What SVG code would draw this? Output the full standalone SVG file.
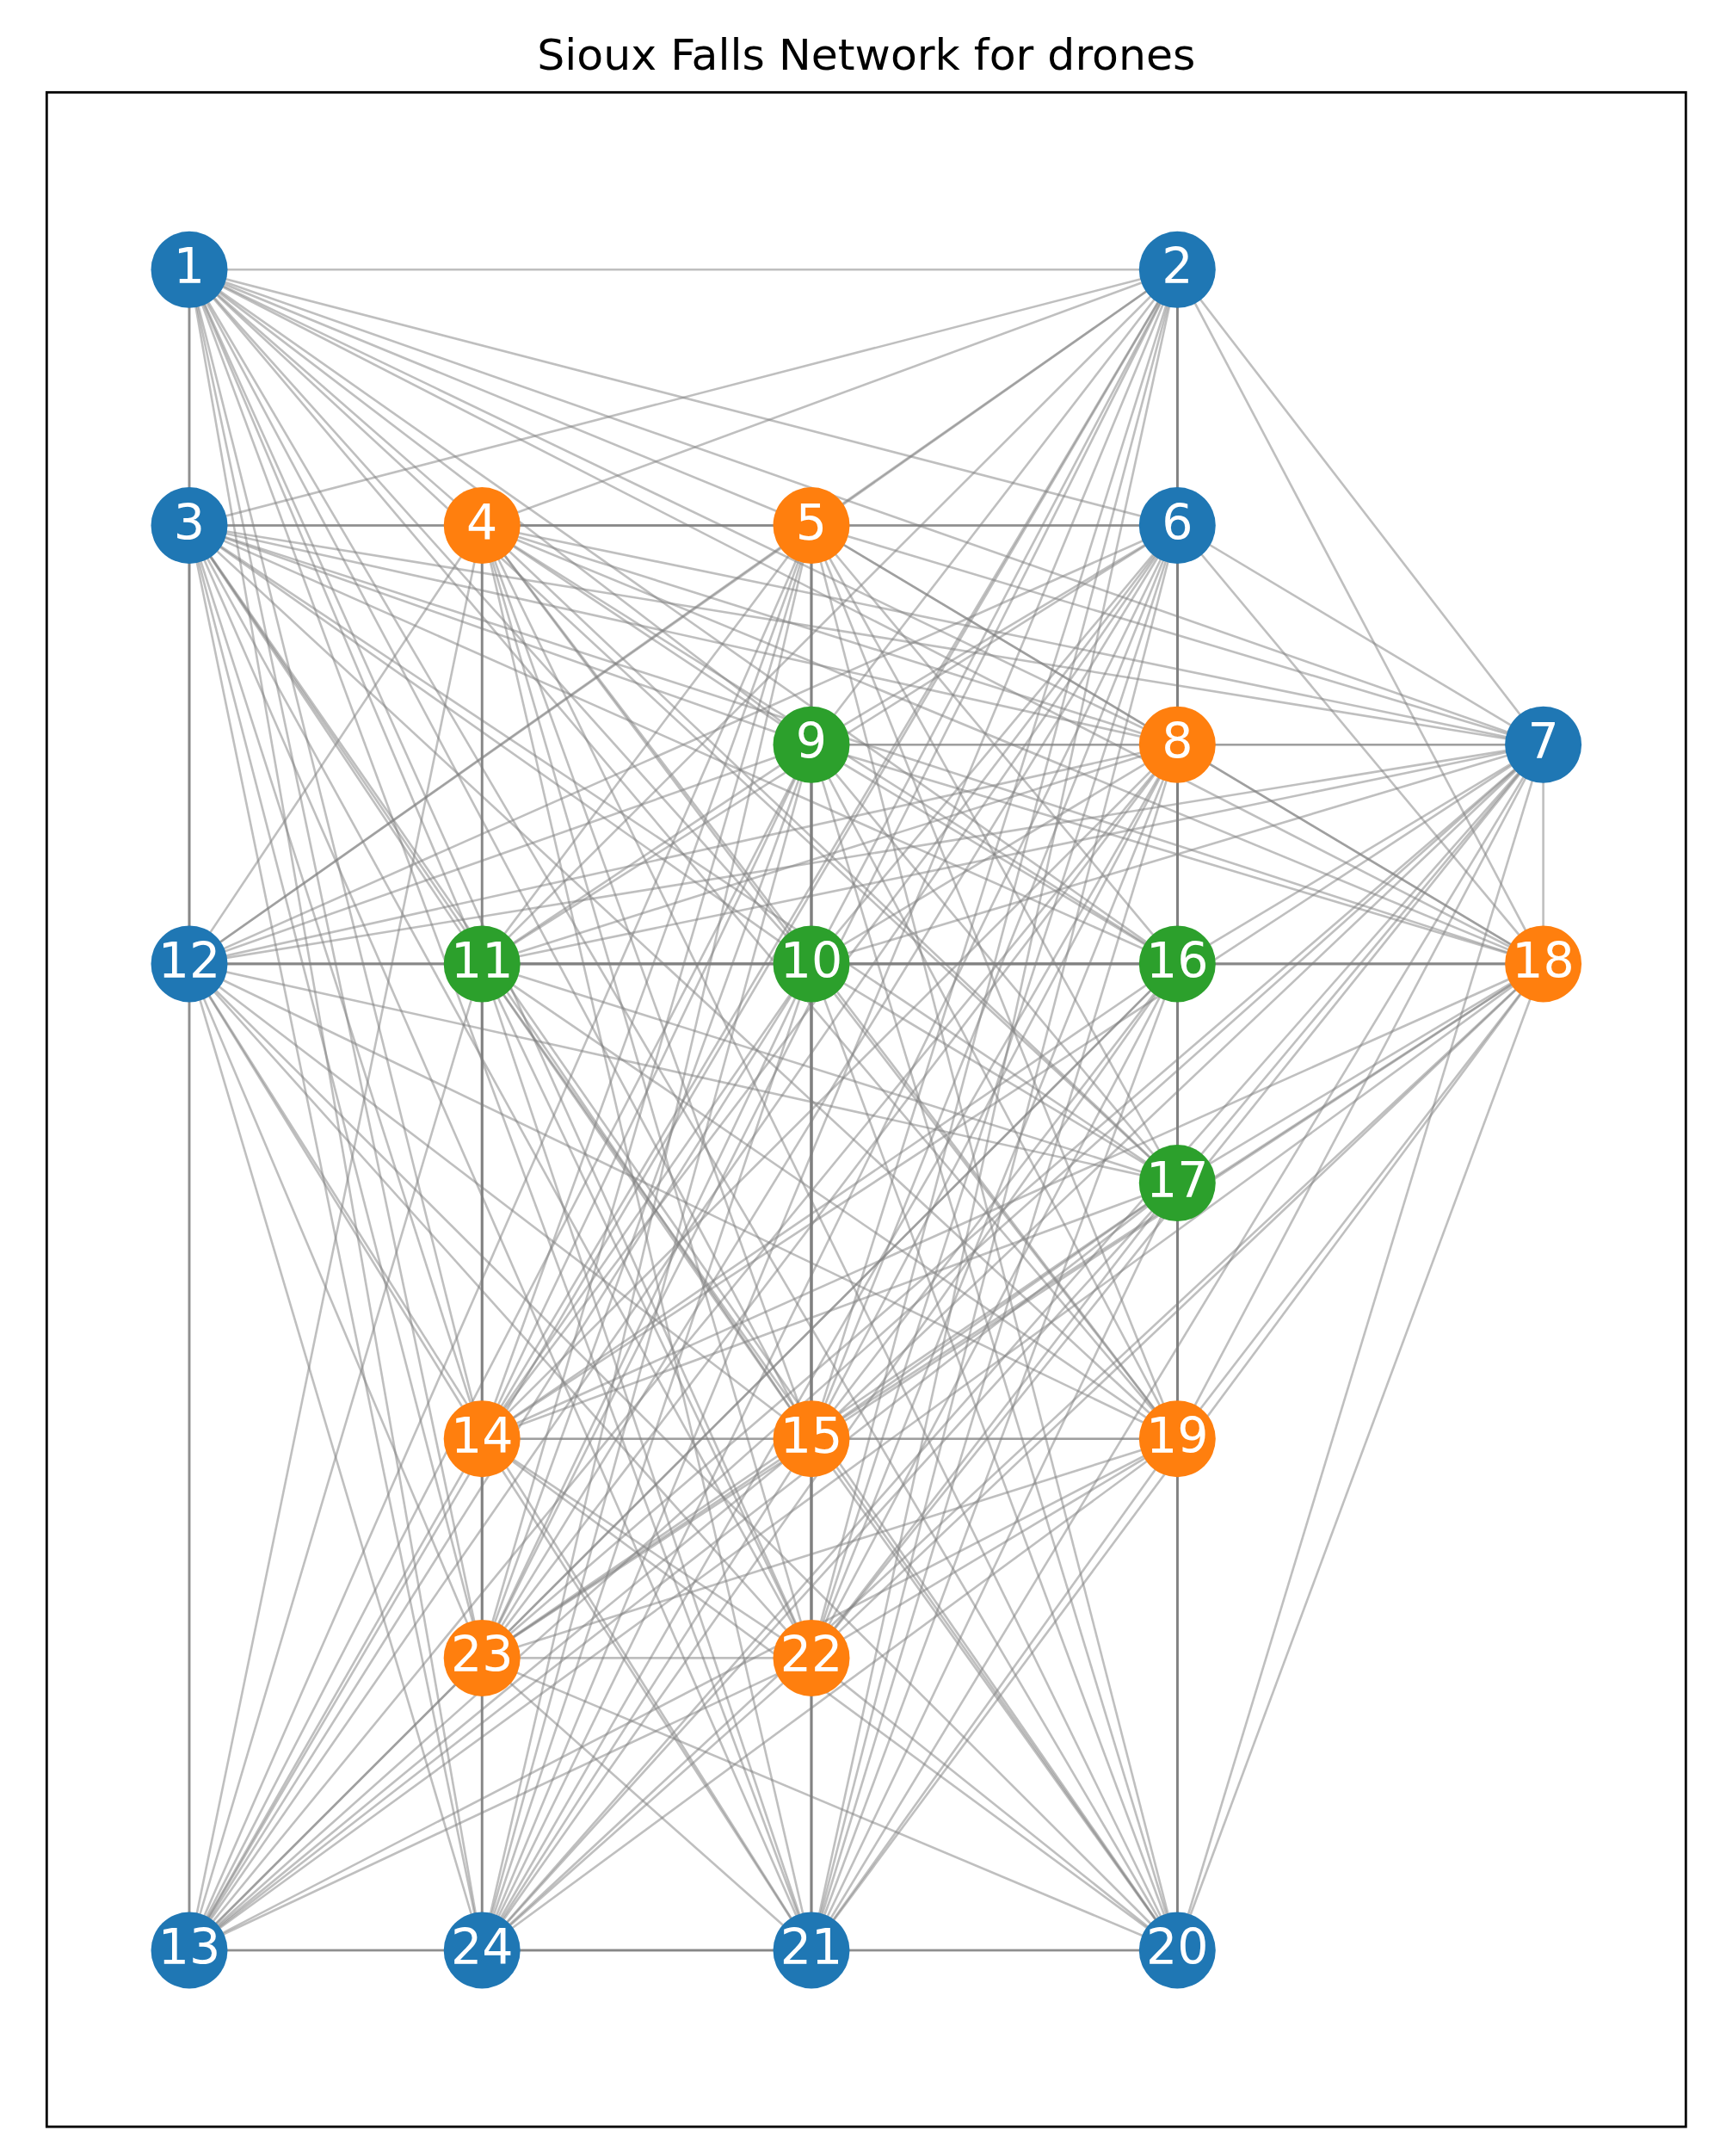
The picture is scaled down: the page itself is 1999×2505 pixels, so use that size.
<svg xmlns="http://www.w3.org/2000/svg" width="1999" height="2505" viewBox="0 0 1999 2505">
<style>
#edges path{stroke:#808080;stroke-opacity:0.5;stroke-width:2.6;fill:none}
.b{fill:#1f77b4}.o{fill:#ff7f0e}.g{fill:#2ca02c}
.lbl{font-family:"DejaVu Sans","Liberation Sans",sans-serif;font-size:57px;fill:#ffffff;text-anchor:middle}
.title{font-family:"DejaVu Sans","Liberation Sans",sans-serif;font-size:50.5px;fill:#000000;text-anchor:middle}
</style>
<rect x="0" y="0" width="1999" height="2505" fill="#ffffff"/>
<text class="title" x="1006.8" y="81">Sioux Falls Network for drones</text>
<rect x="54.3" y="107.3" width="1905" height="2363.7" fill="none" stroke="#000000" stroke-width="2.8"/>
<g id="edges">
<path d="M220 313.3L1368.3 313.3"/><path d="M220 313.3L220 610.5"/><path d="M220 313.3L560.2 610.5"/><path d="M220 313.3L943 610.5"/><path d="M220 313.3L1368.3 610.5"/><path d="M220 313.3L1793.6 865.2"/><path d="M220 313.3L1368.3 865.2"/><path d="M220 313.3L943 865.2"/><path d="M220 313.3L943 1119.9"/><path d="M220 313.3L560.2 1119.9"/><path d="M220 313.3L220 1119.9"/><path d="M220 313.3L220 2266"/><path d="M220 313.3L560.2 1671.7"/><path d="M220 313.3L943 1671.7"/><path d="M220 313.3L1368.3 1119.9"/><path d="M220 313.3L1368.3 1374.6"/><path d="M220 313.3L1793.6 1119.9"/><path d="M220 313.3L1368.3 1671.7"/><path d="M220 313.3L1368.3 2266"/><path d="M220 313.3L943 2266"/><path d="M220 313.3L943 1926.4"/><path d="M220 313.3L560.2 1926.4"/><path d="M220 313.3L560.2 2266"/>
<path d="M1368.3 313.3L220 610.5"/><path d="M1368.3 313.3L560.2 610.5"/><path d="M1368.3 313.3L943 610.5"/><path d="M1368.3 313.3L1368.3 610.5"/><path d="M1368.3 313.3L1793.6 865.2"/><path d="M1368.3 313.3L1368.3 865.2"/><path d="M1368.3 313.3L943 865.2"/><path d="M1368.3 313.3L943 1119.9"/><path d="M1368.3 313.3L560.2 1119.9"/><path d="M1368.3 313.3L220 1119.9"/><path d="M1368.3 313.3L220 2266"/><path d="M1368.3 313.3L560.2 1671.7"/><path d="M1368.3 313.3L943 1671.7"/><path d="M1368.3 313.3L1368.3 1119.9"/><path d="M1368.3 313.3L1368.3 1374.6"/><path d="M1368.3 313.3L1793.6 1119.9"/><path d="M1368.3 313.3L1368.3 1671.7"/><path d="M1368.3 313.3L1368.3 2266"/><path d="M1368.3 313.3L943 2266"/><path d="M1368.3 313.3L943 1926.4"/><path d="M1368.3 313.3L560.2 1926.4"/><path d="M1368.3 313.3L560.2 2266"/>
<path d="M220 610.5L560.2 610.5"/><path d="M220 610.5L943 610.5"/><path d="M220 610.5L1368.3 610.5"/><path d="M220 610.5L1793.6 865.2"/><path d="M220 610.5L1368.3 865.2"/><path d="M220 610.5L943 865.2"/><path d="M220 610.5L943 1119.9"/><path d="M220 610.5L560.2 1119.9"/><path d="M220 610.5L220 1119.9"/><path d="M220 610.5L220 2266"/><path d="M220 610.5L560.2 1671.7"/><path d="M220 610.5L943 1671.7"/><path d="M220 610.5L1368.3 1119.9"/><path d="M220 610.5L1368.3 1374.6"/><path d="M220 610.5L1793.6 1119.9"/><path d="M220 610.5L1368.3 1671.7"/><path d="M220 610.5L1368.3 2266"/><path d="M220 610.5L943 2266"/><path d="M220 610.5L943 1926.4"/><path d="M220 610.5L560.2 1926.4"/><path d="M220 610.5L560.2 2266"/>
<path d="M560.2 610.5L943 610.5"/><path d="M560.2 610.5L1368.3 610.5"/><path d="M560.2 610.5L1793.6 865.2"/><path d="M560.2 610.5L1368.3 865.2"/><path d="M560.2 610.5L943 865.2"/><path d="M560.2 610.5L943 1119.9"/><path d="M560.2 610.5L560.2 1119.9"/><path d="M560.2 610.5L220 1119.9"/><path d="M560.2 610.5L220 2266"/><path d="M560.2 610.5L560.2 1671.7"/><path d="M560.2 610.5L943 1671.7"/><path d="M560.2 610.5L1368.3 1119.9"/><path d="M560.2 610.5L1368.3 1374.6"/><path d="M560.2 610.5L1793.6 1119.9"/><path d="M560.2 610.5L1368.3 1671.7"/><path d="M560.2 610.5L1368.3 2266"/><path d="M560.2 610.5L943 2266"/><path d="M560.2 610.5L943 1926.4"/><path d="M560.2 610.5L560.2 1926.4"/><path d="M560.2 610.5L560.2 2266"/>
<path d="M943 610.5L1368.3 610.5"/><path d="M943 610.5L1793.6 865.2"/><path d="M943 610.5L1368.3 865.2"/><path d="M943 610.5L943 865.2"/><path d="M943 610.5L943 1119.9"/><path d="M943 610.5L560.2 1119.9"/><path d="M943 610.5L220 1119.9"/><path d="M943 610.5L220 2266"/><path d="M943 610.5L560.2 1671.7"/><path d="M943 610.5L943 1671.7"/><path d="M943 610.5L1368.3 1119.9"/><path d="M943 610.5L1368.3 1374.6"/><path d="M943 610.5L1793.6 1119.9"/><path d="M943 610.5L1368.3 1671.7"/><path d="M943 610.5L1368.3 2266"/><path d="M943 610.5L943 2266"/><path d="M943 610.5L943 1926.4"/><path d="M943 610.5L560.2 1926.4"/><path d="M943 610.5L560.2 2266"/>
<path d="M1368.3 610.5L1793.6 865.2"/><path d="M1368.3 610.5L1368.3 865.2"/><path d="M1368.3 610.5L943 865.2"/><path d="M1368.3 610.5L943 1119.9"/><path d="M1368.3 610.5L560.2 1119.9"/><path d="M1368.3 610.5L220 1119.9"/><path d="M1368.3 610.5L220 2266"/><path d="M1368.3 610.5L560.2 1671.7"/><path d="M1368.3 610.5L943 1671.7"/><path d="M1368.3 610.5L1368.3 1119.9"/><path d="M1368.3 610.5L1368.3 1374.6"/><path d="M1368.3 610.5L1793.6 1119.9"/><path d="M1368.3 610.5L1368.3 1671.7"/><path d="M1368.3 610.5L1368.3 2266"/><path d="M1368.3 610.5L943 2266"/><path d="M1368.3 610.5L943 1926.4"/><path d="M1368.3 610.5L560.2 1926.4"/><path d="M1368.3 610.5L560.2 2266"/>
<path d="M1793.6 865.2L1368.3 865.2"/><path d="M1793.6 865.2L943 865.2"/><path d="M1793.6 865.2L943 1119.9"/><path d="M1793.6 865.2L560.2 1119.9"/><path d="M1793.6 865.2L220 1119.9"/><path d="M1793.6 865.2L220 2266"/><path d="M1793.6 865.2L560.2 1671.7"/><path d="M1793.6 865.2L943 1671.7"/><path d="M1793.6 865.2L1368.3 1119.9"/><path d="M1793.6 865.2L1368.3 1374.6"/><path d="M1793.6 865.2L1793.6 1119.9"/><path d="M1793.6 865.2L1368.3 1671.7"/><path d="M1793.6 865.2L1368.3 2266"/><path d="M1793.6 865.2L943 2266"/><path d="M1793.6 865.2L943 1926.4"/><path d="M1793.6 865.2L560.2 1926.4"/><path d="M1793.6 865.2L560.2 2266"/>
<path d="M1368.3 865.2L943 865.2"/><path d="M1368.3 865.2L943 1119.9"/><path d="M1368.3 865.2L560.2 1119.9"/><path d="M1368.3 865.2L220 1119.9"/><path d="M1368.3 865.2L220 2266"/><path d="M1368.3 865.2L560.2 1671.7"/><path d="M1368.3 865.2L943 1671.7"/><path d="M1368.3 865.2L1368.3 1119.9"/><path d="M1368.3 865.2L1368.3 1374.6"/><path d="M1368.3 865.2L1793.6 1119.9"/><path d="M1368.3 865.2L1368.3 1671.7"/><path d="M1368.3 865.2L1368.3 2266"/><path d="M1368.3 865.2L943 2266"/><path d="M1368.3 865.2L943 1926.4"/><path d="M1368.3 865.2L560.2 1926.4"/><path d="M1368.3 865.2L560.2 2266"/>
<path d="M943 865.2L943 1119.9"/><path d="M943 865.2L560.2 1119.9"/><path d="M943 865.2L220 1119.9"/><path d="M943 865.2L220 2266"/><path d="M943 865.2L560.2 1671.7"/><path d="M943 865.2L943 1671.7"/><path d="M943 865.2L1368.3 1119.9"/><path d="M943 865.2L1368.3 1374.6"/><path d="M943 865.2L1793.6 1119.9"/><path d="M943 865.2L1368.3 1671.7"/><path d="M943 865.2L1368.3 2266"/><path d="M943 865.2L943 2266"/><path d="M943 865.2L943 1926.4"/><path d="M943 865.2L560.2 1926.4"/><path d="M943 865.2L560.2 2266"/>
<path d="M943 1119.9L560.2 1119.9"/><path d="M943 1119.9L220 1119.9"/><path d="M943 1119.9L220 2266"/><path d="M943 1119.9L560.2 1671.7"/><path d="M943 1119.9L943 1671.7"/><path d="M943 1119.9L1368.3 1119.9"/><path d="M943 1119.9L1368.3 1374.6"/><path d="M943 1119.9L1793.6 1119.9"/><path d="M943 1119.9L1368.3 1671.7"/><path d="M943 1119.9L1368.3 2266"/><path d="M943 1119.9L943 2266"/><path d="M943 1119.9L943 1926.4"/><path d="M943 1119.9L560.2 1926.4"/><path d="M943 1119.9L560.2 2266"/>
<path d="M560.2 1119.9L220 1119.9"/><path d="M560.2 1119.9L220 2266"/><path d="M560.2 1119.9L560.2 1671.7"/><path d="M560.2 1119.9L943 1671.7"/><path d="M560.2 1119.9L1368.3 1119.9"/><path d="M560.2 1119.9L1368.3 1374.6"/><path d="M560.2 1119.9L1793.6 1119.9"/><path d="M560.2 1119.9L1368.3 1671.7"/><path d="M560.2 1119.9L1368.3 2266"/><path d="M560.2 1119.9L943 2266"/><path d="M560.2 1119.9L943 1926.4"/><path d="M560.2 1119.9L560.2 1926.4"/><path d="M560.2 1119.9L560.2 2266"/>
<path d="M220 1119.9L220 2266"/><path d="M220 1119.9L560.2 1671.7"/><path d="M220 1119.9L943 1671.7"/><path d="M220 1119.9L1368.3 1119.9"/><path d="M220 1119.9L1368.3 1374.6"/><path d="M220 1119.9L1793.6 1119.9"/><path d="M220 1119.9L1368.3 1671.7"/><path d="M220 1119.9L1368.3 2266"/><path d="M220 1119.9L943 2266"/><path d="M220 1119.9L943 1926.4"/><path d="M220 1119.9L560.2 1926.4"/><path d="M220 1119.9L560.2 2266"/>
<path d="M220 2266L560.2 1671.7"/><path d="M220 2266L943 1671.7"/><path d="M220 2266L1368.3 1119.9"/><path d="M220 2266L1368.3 1374.6"/><path d="M220 2266L1793.6 1119.9"/><path d="M220 2266L1368.3 1671.7"/><path d="M220 2266L1368.3 2266"/><path d="M220 2266L943 2266"/><path d="M220 2266L943 1926.4"/><path d="M220 2266L560.2 1926.4"/><path d="M220 2266L560.2 2266"/>
<path d="M560.2 1671.7L943 1671.7"/><path d="M560.2 1671.7L1368.3 1119.9"/><path d="M560.2 1671.7L1368.3 1374.6"/><path d="M560.2 1671.7L1793.6 1119.9"/><path d="M560.2 1671.7L1368.3 1671.7"/><path d="M560.2 1671.7L1368.3 2266"/><path d="M560.2 1671.7L943 2266"/><path d="M560.2 1671.7L943 1926.4"/><path d="M560.2 1671.7L560.2 1926.4"/><path d="M560.2 1671.7L560.2 2266"/>
<path d="M943 1671.7L1368.3 1119.9"/><path d="M943 1671.7L1368.3 1374.6"/><path d="M943 1671.7L1793.6 1119.9"/><path d="M943 1671.7L1368.3 1671.7"/><path d="M943 1671.7L1368.3 2266"/><path d="M943 1671.7L943 2266"/><path d="M943 1671.7L943 1926.4"/><path d="M943 1671.7L560.2 1926.4"/><path d="M943 1671.7L560.2 2266"/>
<path d="M1368.3 1119.9L1368.3 1374.6"/><path d="M1368.3 1119.9L1793.6 1119.9"/><path d="M1368.3 1119.9L1368.3 1671.7"/><path d="M1368.3 1119.9L1368.3 2266"/><path d="M1368.3 1119.9L943 2266"/><path d="M1368.3 1119.9L943 1926.4"/><path d="M1368.3 1119.9L560.2 1926.4"/><path d="M1368.3 1119.9L560.2 2266"/>
<path d="M1368.3 1374.6L1793.6 1119.9"/><path d="M1368.3 1374.6L1368.3 1671.7"/><path d="M1368.3 1374.6L1368.3 2266"/><path d="M1368.3 1374.6L943 2266"/><path d="M1368.3 1374.6L943 1926.4"/><path d="M1368.3 1374.6L560.2 1926.4"/><path d="M1368.3 1374.6L560.2 2266"/>
<path d="M1793.6 1119.9L1368.3 1671.7"/><path d="M1793.6 1119.9L1368.3 2266"/><path d="M1793.6 1119.9L943 2266"/><path d="M1793.6 1119.9L943 1926.4"/><path d="M1793.6 1119.9L560.2 1926.4"/><path d="M1793.6 1119.9L560.2 2266"/>
<path d="M1368.3 1671.7L1368.3 2266"/><path d="M1368.3 1671.7L943 2266"/><path d="M1368.3 1671.7L943 1926.4"/><path d="M1368.3 1671.7L560.2 1926.4"/><path d="M1368.3 1671.7L560.2 2266"/>
<path d="M1368.3 2266L943 2266"/><path d="M1368.3 2266L943 1926.4"/><path d="M1368.3 2266L560.2 1926.4"/><path d="M1368.3 2266L560.2 2266"/>
<path d="M943 2266L943 1926.4"/><path d="M943 2266L560.2 1926.4"/><path d="M943 2266L560.2 2266"/>
<path d="M943 1926.4L560.2 1926.4"/><path d="M943 1926.4L560.2 2266"/>
<path d="M560.2 1926.4L560.2 2266"/>
</g>
<g id="node-1"><circle class="b" cx="220" cy="313.3" r="44.5"/><text class="lbl" x="220" y="329.3">1</text></g>
<g id="node-2"><circle class="b" cx="1368.3" cy="313.3" r="44.5"/><text class="lbl" x="1368.3" y="329.3">2</text></g>
<g id="node-3"><circle class="b" cx="220" cy="610.5" r="44.5"/><text class="lbl" x="220" y="626.5">3</text></g>
<g id="node-4"><circle class="o" cx="560.2" cy="610.5" r="44.5"/><text class="lbl" x="560.2" y="626.5">4</text></g>
<g id="node-5"><circle class="o" cx="943" cy="610.5" r="44.5"/><text class="lbl" x="943" y="626.5">5</text></g>
<g id="node-6"><circle class="b" cx="1368.3" cy="610.5" r="44.5"/><text class="lbl" x="1368.3" y="626.5">6</text></g>
<g id="node-7"><circle class="b" cx="1793.6" cy="865.2" r="44.5"/><text class="lbl" x="1793.6" y="881.2">7</text></g>
<g id="node-8"><circle class="o" cx="1368.3" cy="865.2" r="44.5"/><text class="lbl" x="1368.3" y="881.2">8</text></g>
<g id="node-9"><circle class="g" cx="943" cy="865.2" r="44.5"/><text class="lbl" x="943" y="881.2">9</text></g>
<g id="node-10"><circle class="g" cx="943" cy="1119.9" r="44.5"/><text class="lbl" x="943" y="1135.9">10</text></g>
<g id="node-11"><circle class="g" cx="560.2" cy="1119.9" r="44.5"/><text class="lbl" x="560.2" y="1135.9">11</text></g>
<g id="node-12"><circle class="b" cx="220" cy="1119.9" r="44.5"/><text class="lbl" x="220" y="1135.9">12</text></g>
<g id="node-13"><circle class="b" cx="220" cy="2266" r="44.5"/><text class="lbl" x="220" y="2282">13</text></g>
<g id="node-14"><circle class="o" cx="560.2" cy="1671.7" r="44.5"/><text class="lbl" x="560.2" y="1687.7">14</text></g>
<g id="node-15"><circle class="o" cx="943" cy="1671.7" r="44.5"/><text class="lbl" x="943" y="1687.7">15</text></g>
<g id="node-16"><circle class="g" cx="1368.3" cy="1119.9" r="44.5"/><text class="lbl" x="1368.3" y="1135.9">16</text></g>
<g id="node-17"><circle class="g" cx="1368.3" cy="1374.6" r="44.5"/><text class="lbl" x="1368.3" y="1390.6">17</text></g>
<g id="node-18"><circle class="o" cx="1793.6" cy="1119.9" r="44.5"/><text class="lbl" x="1793.6" y="1135.9">18</text></g>
<g id="node-19"><circle class="o" cx="1368.3" cy="1671.7" r="44.5"/><text class="lbl" x="1368.3" y="1687.7">19</text></g>
<g id="node-20"><circle class="b" cx="1368.3" cy="2266" r="44.5"/><text class="lbl" x="1368.3" y="2282">20</text></g>
<g id="node-21"><circle class="b" cx="943" cy="2266" r="44.5"/><text class="lbl" x="943" y="2282">21</text></g>
<g id="node-22"><circle class="o" cx="943" cy="1926.4" r="44.5"/><text class="lbl" x="943" y="1942.4">22</text></g>
<g id="node-23"><circle class="o" cx="560.2" cy="1926.4" r="44.5"/><text class="lbl" x="560.2" y="1942.4">23</text></g>
<g id="node-24"><circle class="b" cx="560.2" cy="2266" r="44.5"/><text class="lbl" x="560.2" y="2282">24</text></g>
</svg>
